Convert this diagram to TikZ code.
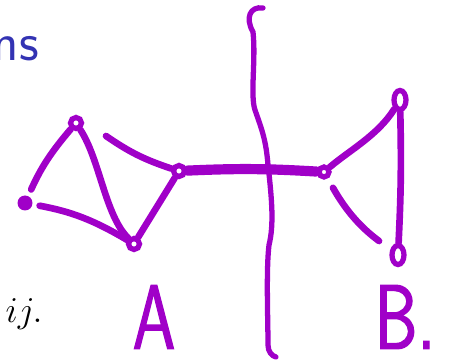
\documentclass[tikz,border=0pt]{standalone}
\usepackage{amsmath,amssymb}
\usepackage{fontspec}
\usepackage{xcolor}
\usepackage{tikz}
\usetikzlibrary{calc,shapes.geometric}
\newfontfamily\handfont[FakeBold=1.6]{Latin Modern Sans}
\definecolor{pen}{HTML}{A000C8}
\definecolor{titleblue}{HTML}{3333B3}

\begin{document}
\begin{tikzpicture}[x=0.02cm, y=-0.02cm,
  pen/.style={draw=pen, line width=3.8pt, line cap=round},
  dotnode/.style={circle, fill=pen, inner sep=0pt, minimum size=0.3cm},
  ring/.style={circle, draw=pen, line width=3pt, inner sep=0pt, minimum size=0.22cm},
  oval/.style={ellipse, draw=pen, line width=3pt, inner sep=0pt, minimum width=0.24cm, minimum height=0.38cm},
  hand/.style={text=pen, inner sep=0pt, xscale=0.75, transform shape, font=\fontsize{52}{52}\selectfont\handfont}]
  \useasboundingbox (0,0) rectangle (450,364);
  % cut-off text from the slide
  \node[anchor=base east, inner sep=0pt, text=titleblue, font=\fontsize{31}{31}\selectfont\sffamily] (title) at (39,61) {ns};
  \node[anchor=base east, inner sep=0pt, font=\fontsize{20}{20}\selectfont] (eqtail) at (43,323) {$ij.$};
  % graph A
  \node[dotnode] (a) at (25,203) {};
  \node[ring] (b) at (76,123) {};
  \node[ring] (c) at (134,244) {};
  \node[ring] (d) at (179,171) {};
  \coordinate (dtail) at (106,136);
  % graph B
  \node[ring, minimum size=0.2cm] (e) at (324,172) {};
  \node[oval] (f) at (400,100) {};
  \node[oval] (g) at (398,255) {};
  % edges
  \draw[pen, shorten <=4pt] (a) to[bend left=8] (b);
  \draw[pen, shorten <=4pt] (a) to[bend left=10] (c);
  \draw[pen] (b) .. controls (100,160) and (105,215) .. (c);
  \draw[pen] (c) -- (d);
  \draw[pen] (d) to[bend left=8] (dtail);
  \draw[pen, line width=5.8pt] (d) to[bend left=3] (e);
  \draw[pen] (e) .. controls (350,150) and (378,135) .. (f);
  \draw[pen, shorten <=6pt, shorten >=8pt] (e) to[bend right=12] (g);
  \draw[pen] (f) to[bend left=2] (g);
  % cut line
  \draw[pen, line width=3pt] (263,8) .. controls (250,6) and (245,18) .. (253,32)
    .. controls (256,60) and (250,95) .. (255,110)
    .. controls (262,130) and (266,140) .. (268,165)
    .. controls (272,200) and (274,225) .. (269,245)
    .. controls (266,270) and (268,320) .. (268,345)
    .. controls (268,352) and (272,356) .. (276,357);
  % labels
  \node[hand] (labelA) at (154,317) {A};
  \node[hand] (labelB) at (405,317) {B.};
\end{tikzpicture}
\end{document}
